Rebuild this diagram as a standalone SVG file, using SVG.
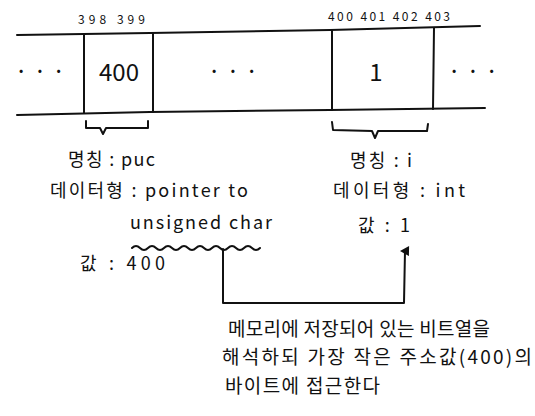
<svg xmlns="http://www.w3.org/2000/svg" width="535" height="416" viewBox="0 0 535 416">
<style>
.ln{stroke:#111;stroke-width:2;fill:none;stroke-linecap:round;stroke-linejoin:round}
.t{font-family:"Noto Sans CJK KR","Noto Sans",sans-serif;fill:#111;font-size:18px}
.n{font-size:19px}
.s{font-size:12px}
.big{font-size:24px}
</style>
<defs>
<marker id="ah" markerWidth="10" markerHeight="10" refX="5" refY="5" orient="auto" markerUnits="userSpaceOnUse">
<path d="M0,9 L5,0 L10,9 Z" fill="#111"/>
</marker>
</defs>
<rect width="535" height="416" fill="#fff"/>
<g id="memory">
<path class="ln" d="M17,35 L150,33 L330,30 L480,26"/>
<path class="ln" d="M17,115 L150,112 L330,110 L485,108"/>
<path class="ln" d="M84,34 L84,113"/>
<path class="ln" d="M153,33 L153,112"/>
<path class="ln" d="M332,30 L332,110"/>
<path class="ln" d="M434,28 L433,109"/>
<text class="t big" x="40" y="80" text-anchor="middle">· · ·</text>
<text class="t big" x="119" y="81" text-anchor="middle">400</text>
<text class="t big" x="233" y="80" text-anchor="middle">·  ·  ·</text>
<text class="t big" x="376" y="81" text-anchor="middle">1</text>
<text class="t big" x="473" y="80" text-anchor="middle">· · ·</text>
<text class="t s" x="78" y="24" textLength="67" lengthAdjust="spacing">398 399</text>
<text class="t s" x="328" y="21" textLength="122" lengthAdjust="spacing">400 401 402 403</text>
</g>
<g id="puc">
<path class="ln" d="M86,121 L86,128 L100,128 L103,134 L106,128 L148,128 L148,121"/>
<text class="t" x="68" y="166" textLength="87" lengthAdjust="spacing">명칭 : puc</text>
<text class="t" x="50" y="197" textLength="198" lengthAdjust="spacing">데이터형 : pointer to</text>
<text class="t" x="130" y="229" textLength="142" lengthAdjust="spacing">unsigned char</text>
<path class="ln" d="M132,248 q4,-4 8,0 t8,0 t8,0 t8,0 t8,0 t8,0 t8,0 t8,0 t8,0 t8,0 t8,0 t8,0 t8,0 t8,0 t8,0 t8,0"/>
<text class="t" x="80" y="270" textLength="85" lengthAdjust="spacing">값 : 400</text>
</g>
<g id="i">
<path class="ln" d="M332,122 L333,130 L372,131 L375,138 L378,131 L427,131 L428,124"/>
<text class="t" x="350" y="167" textLength="62" lengthAdjust="spacing">명칭 : i</text>
<text class="t" x="333" y="197" textLength="132" lengthAdjust="spacing">데이터형 : int</text>
<text class="t" x="358" y="232" textLength="52" lengthAdjust="spacing">값 : 1</text>
</g>
<g id="note">
<text class="t n" x="228" y="336" textLength="262" lengthAdjust="spacing">메모리에 저장되어 있는 비트열을</text>
<text class="t n" x="222" y="364" textLength="310" lengthAdjust="spacing">해석하되 가장 작은 주소값(400)의</text>
<text class="t n" x="225" y="393" textLength="155" lengthAdjust="spacing">바이트에 접근한다</text>
</g>
<g id="connectors">
<path class="ln" d="M223,249 L223,303 L404,303 L405,251" marker-end="url(#ah)"/>
</g>
</svg>
